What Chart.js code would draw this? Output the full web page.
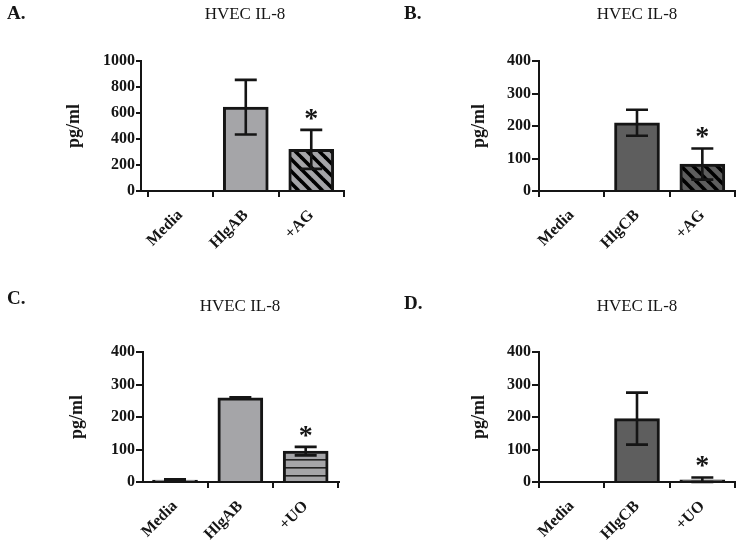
<!DOCTYPE html>
<html><head><meta charset="utf-8">
<script src="https://cdn.jsdelivr.net/npm/chart.js@4/dist/chart.umd.min.js"></script>
<style>
html,body{margin:0;padding:0;background:#fff;}
#wrap{position:relative;width:742px;height:546px;overflow:hidden;}
canvas{position:absolute;}
</style></head><body>
<div id="wrap">
<canvas id="cA" width="371" height="273" style="left:0;top:0"></canvas>
<canvas id="cB" width="371" height="273" style="left:371px;top:0"></canvas>
<canvas id="cC" width="371" height="273" style="left:0;top:273px"></canvas>
<canvas id="cD" width="371" height="273" style="left:371px;top:273px"></canvas>
</div>
<script>
// ---- data ----
const titleText = 'HVEC IL-8';
const yTitle = 'pg/ml';

const categoriesA = ['Media', 'HlgAB', '+AG'];
const valuesA = [0, 645, 320];
const errorsA = [0, 210, 150];
const sigA = [false, false, true];
const yTicksA = [0, 200, 400, 600, 800, 1000];

const categoriesB = ['Media', 'HlgCB', '+AG'];
const valuesB = [0, 210, 83];
const errorsB = [0, 40, 48];
const sigB = [false, false, true];
const yTicksB = [0, 100, 200, 300, 400];

const categoriesC = ['Media', 'HlgAB', '+UO'];
const valuesC = [6, 259, 95];
const errorsC = [2, 2, 13];
const sigC = [false, false, true];
const yTicksC = [0, 100, 200, 300, 400];

const categoriesD = ['Media', 'HlgCB', '+UO'];
const valuesD = [0, 195, 7];
const errorsD = [0, 80, 7];
const sigD = [false, false, true];
const yTicksD = [0, 100, 200, 300, 400];

// ---- styles ----
const LIGHT = '#a5a5a8';
const DARK = '#5e5e5e';
const INK = '#151515';
const FONT = '"Liberation Serif", "Times New Roman", serif';

function diagPattern(bg) {
  const c = document.createElement('canvas'); c.width = 12; c.height = 12;
  const g = c.getContext('2d');
  g.fillStyle = bg; g.fillRect(0, 0, 12, 12);
  g.strokeStyle = '#000'; g.lineWidth = 3.6;
  for (let k = -1; k <= 1; k++) {
    g.beginPath(); g.moveTo(k * 12 - 3, -3); g.lineTo(k * 12 + 15, 15); g.stroke();
  }
  return g.createPattern(c, 'repeat');
}
function horizPattern(bg) {
  const c = document.createElement('canvas'); c.width = 8; c.height = 8;
  const g = c.getContext('2d');
  g.fillStyle = bg; g.fillRect(0, 0, 8, 8);
  g.fillStyle = '#222'; g.fillRect(0, 2, 8, 1.6);
  return g.createPattern(c, 'repeat');
}

const annot = {
  id: 'annot',
  afterDraw(chart, args, o) {
    const p = o.panel;
    const ctx = chart.ctx;
    const xs = chart.scales.x, ys = chart.scales.y;
    ctx.save();
    // error bars + asterisks
    ctx.strokeStyle = INK; ctx.lineWidth = 2.6; ctx.lineCap = 'butt';
    p.values.forEach((v, i) => {
      const e = p.errors[i];
      const px = xs.getPixelForValue(i);
      if (e > 0) {
        const top = ys.getPixelForValue(v + e);
        const bot = ys.getPixelForValue(Math.max(0, v - e));
        ctx.beginPath();
        ctx.moveTo(px, top); ctx.lineTo(px, bot);
        ctx.moveTo(px - 11, top); ctx.lineTo(px + 11, top);
        ctx.moveTo(px - 11, bot); ctx.lineTo(px + 11, bot);
        ctx.stroke();
      }
      if (p.sig[i]) {
        const top = ys.getPixelForValue(v + e);
        ctx.fillStyle = INK; ctx.font = 'bold 28px ' + FONT;
        ctx.textAlign = 'center'; ctx.textBaseline = 'alphabetic';
        ctx.fillText('*', px, top - 3);
      }
    });
    // panel letter
    ctx.fillStyle = INK;
    ctx.font = 'bold 19px ' + FONT;
    ctx.textAlign = 'left'; ctx.textBaseline = 'middle';
    ctx.fillText(p.letter, p.letterX, p.letterY);
    // title
    ctx.font = '17px ' + FONT;
    ctx.textAlign = 'center';
    ctx.fillText(titleText, p.titleX, p.titleY);
    // y title
    ctx.translate(p.yTitleX, (chart.chartArea.top + chart.chartArea.bottom) / 2);
    ctx.rotate(-Math.PI / 2);
    ctx.font = 'bold 18px ' + FONT;
    ctx.textAlign = 'center'; ctx.textBaseline = 'middle';
    ctx.fillText(yTitle, 0, 0);
    ctx.restore();
  }
};

function makePanel(id, p) {
  const data = p.values.map((v, i) => ({ x: i, y: v }));
  new Chart(document.getElementById(id), {
    type: 'bar',
    data: {
      datasets: [{
        data: data,
        backgroundColor: p.colors,
        borderColor: INK,
        borderWidth: 3,
        borderSkipped: 'bottom',
        barThickness: 45
      }]
    },
    plugins: [annot],
    options: {
      responsive: false, animation: false, devicePixelRatio: 1,
      layout: { padding: { left: 0, top: p.area.top, right: 371 - p.area.right, bottom: 0 } },
      plugins: { legend: { display: false }, tooltip: { enabled: false }, title: { display: false }, annot: { panel: p } },
      scales: {
        x: {
          type: 'linear', min: p.xmin, max: p.xmax, offset: false,
          afterBuildTicks: s => { s.ticks = p.categories.map((_, i) => ({ value: i })); },
          afterFit: s => { s.height = 273 - p.area.bottom; },
          ticks: {
            callback: v => p.categories[v],
            minRotation: 45, maxRotation: 45, autoSkip: false,
            font: { family: FONT, weight: 'bold', size: 16 }, color: INK, padding: 9
          },
          grid: { display: true, drawOnChartArea: false, drawTicks: true, tickLength: 6, lineWidth: 2, color: INK },
          border: { display: true, color: INK, width: 2 }
        },
        y: {
          min: 0, max: p.yTicks[p.yTicks.length - 1],
          afterBuildTicks: s => { s.ticks = p.yTicks.map(v => ({ value: v })); },
          afterFit: s => { s.width = p.area.left; },
          ticks: { callback: v => String(v), font: { family: FONT, weight: 'bold', size: 16 }, color: INK, padding: 1 },
          grid: { display: true, drawOnChartArea: false, drawTicks: true, tickLength: p.yTickLen, lineWidth: 2, color: INK },
          border: { display: true, color: INK, width: 2 }
        }
      }
    }
  });
}

makePanel('cA', {
  categories: categoriesA, values: valuesA, errors: errorsA, sig: sigA, yTicks: yTicksA,
  colors: [LIGHT, LIGHT, diagPattern(LIGHT)], yTickLen: 5,
  area: { left: 141, right: 344, top: 61, bottom: 191 }, xmin: -0.6, xmax: 2.5,
  letter: 'A.', letterX: 7, letterY: 14, titleX: 245, titleY: 15, yTitleX: 74
});
makePanel('cB', {
  categories: categoriesB, values: valuesB, errors: errorsB, sig: sigB, yTicks: yTicksB,
  colors: [DARK, DARK, diagPattern(DARK)], yTickLen: 7,
  area: { left: 168, right: 364, top: 61, bottom: 191 }, xmin: -0.5, xmax: 2.5,
  letter: 'B.', letterX: 33, letterY: 14, titleX: 266, titleY: 15, yTitleX: 108
});
makePanel('cC', {
  categories: categoriesC, values: valuesC, errors: errorsC, sig: sigC, yTicks: yTicksC,
  colors: [LIGHT, LIGHT, horizPattern(LIGHT)], yTickLen: 7,
  area: { left: 143, right: 339, top: 79, bottom: 209 }, xmin: -0.49, xmax: 2.51,
  letter: 'C.', letterX: 7, letterY: 26, titleX: 240, titleY: 34, yTitleX: 77
});
makePanel('cD', {
  categories: categoriesD, values: valuesD, errors: errorsD, sig: sigD, yTicks: yTicksD,
  colors: [DARK, DARK, DARK], yTickLen: 7,
  area: { left: 168, right: 364, top: 79, bottom: 209 }, xmin: -0.5, xmax: 2.5,
  letter: 'D.', letterX: 33, letterY: 31, titleX: 266, titleY: 34, yTitleX: 108
});
</script>
</body></html>
